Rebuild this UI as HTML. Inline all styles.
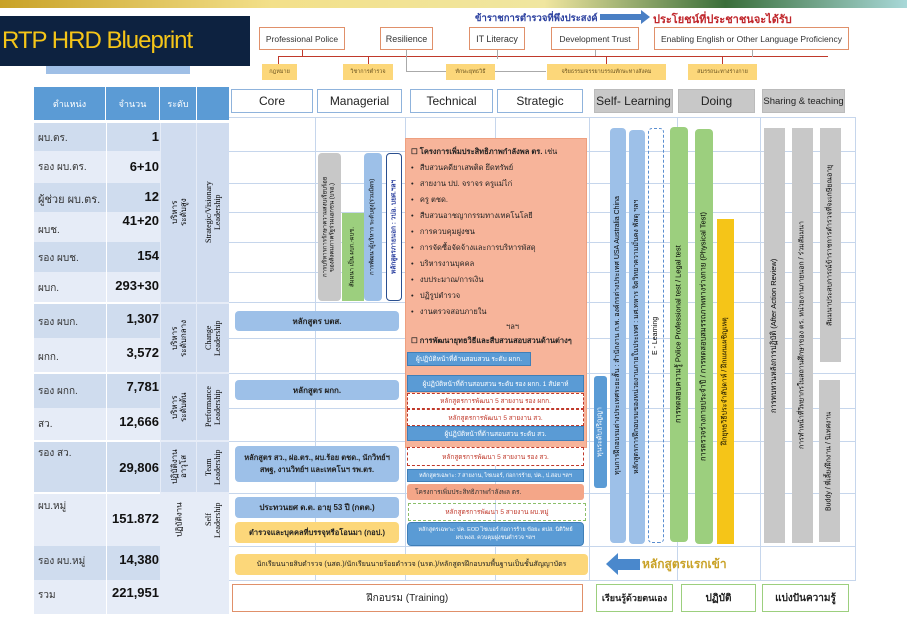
<!DOCTYPE html>
<html><head><meta charset="utf-8">
<style>
*{margin:0;padding:0;box-sizing:border-box}
body{width:907px;height:624px;background:#fff;position:relative;overflow:hidden;font-family:"Liberation Sans","Noto Sans CJK SC",sans-serif;}
.a{position:absolute}
.c{display:flex;align-items:center;justify-content:center;text-align:center;white-space:nowrap}
.v{writing-mode:vertical-rl;transform:rotate(180deg);display:flex;align-items:center;justify-content:center;text-align:center;font-size:8px;line-height:1.15}
.tb{border:1.5px solid #e0906a;background:#fff;font-size:9px;color:#333}
.yl{background:#fcd77a;font-size:5.5px;color:#6b5420}
.hd{background:#fff;border:1.5px solid #8fb3dc;font-size:12px;color:#222}
.gh{background:#c8c8c8;border:1px solid #bbb;font-size:12px;color:#222}
.hl{background:#c6d6ec;height:1px;left:229px;width:627px}
.vl{background:#c6d6ec;width:1px;top:118px;height:463px}
.bb{background:#5a9bd5;color:#fff;font-size:6.5px;border:1px solid #3f7fb8}
.cb{background:#9dc0e8;border-radius:4px;font-size:8px;color:#222;font-weight:bold}
.rd{border:1.5px dashed #c0392b;background:#fff;color:#c0392b;font-size:6.5px}
</style></head><body>
<div class="a" style="left:0;top:0;width:907px;height:8px;background:linear-gradient(90deg,#c9a227,#f3e08a 30%,#f0e6a0 60%,#3a6e3a 80%,#a8d8d8)"></div>
<div class="a" style="left:46px;top:58px;width:144px;height:16px;background:#9fbfe6"></div>
<div class="a" style="left:0;top:16px;width:250px;height:50px;background:#0d2240;color:#f5c518;font-size:24px;letter-spacing:-1px;padding-left:2px;display:flex;align-items:center">RTP HRD Blueprint</div>

<div class="a" style="left:475px;top:11px;font-size:9.5px;font-weight:bold;color:#2a3f9f;white-space:nowrap">ข้าราชการตำรวจที่พึงประสงค์</div>
<div class="a" style="left:600px;top:14px;width:42px;height:6px;background:#4a7fc4"></div>
<div class="a" style="left:641px;top:10px;width:0;height:0;border-left:9px solid #4a7fc4;border-top:7px solid transparent;border-bottom:7px solid transparent"></div>
<div class="a" style="left:653px;top:10px;font-size:11px;font-weight:bold;color:#c0262b;white-space:nowrap">ประโยชน์ที่ประชาชนจะได้รับ</div>

<div class="a" style="left:302px;top:50px;width:1px;height:7px;background:#c0392b"></div>
<div class="a" style="left:278px;top:56px;width:550px;height:1px;background:#c0392b"></div>
<div class="a" style="left:278px;top:56px;width:1px;height:8px;background:#c0392b"></div>
<div class="a" style="left:368px;top:56px;width:1px;height:8px;background:#c0392b"></div>
<div class="a" style="left:606px;top:56px;width:1px;height:8px;background:#c0392b"></div>
<div class="a" style="left:722px;top:56px;width:1px;height:8px;background:#c0392b"></div>
<div class="a" style="left:406px;top:50px;width:1px;height:22px;background:#aaa"></div>
<div class="a" style="left:406px;top:71px;width:140px;height:1px;background:#aaa"></div>
<div class="a" style="left:497px;top:50px;width:1px;height:9px;background:#aaa"></div>
<div class="a" style="left:595px;top:50px;width:1px;height:6px;background:#aaa"></div>
<div class="a" style="left:752px;top:50px;width:1px;height:7px;background:#aaa"></div>

<div class="a c tb" style="left:259px;top:27px;width:86px;height:23px;font-size:8.5px">Professional Police</div>
<div class="a c tb" style="left:380px;top:27px;width:53px;height:23px">Resilience</div>
<div class="a c tb" style="left:469px;top:27px;width:56px;height:23px">IT Literacy</div>
<div class="a c tb" style="left:551px;top:27px;width:88px;height:23px;font-size:8.5px">Development Trust</div>
<div class="a c tb" style="left:654px;top:27px;width:195px;height:23px;font-size:8.5px">Enabling English or Other Language Proficiency</div>

<div class="a c yl" style="left:262px;top:64px;width:35px;height:16px">กฎหมาย</div>
<div class="a c yl" style="left:343px;top:64px;width:50px;height:16px">วิชาการตำรวจ</div>
<div class="a c yl" style="left:446px;top:64px;width:49px;height:16px">ทักษะยุทธวิธี</div>
<div class="a c yl" style="left:547px;top:64px;width:119px;height:16px">จริยธรรม/จรรยาบรรณทักษะทางสังคม</div>
<div class="a c yl" style="left:688px;top:64px;width:69px;height:16px">สมรรถนะทางร่างกาย</div>

<div class="a" style="left:34px;top:87px;width:195px;height:33px;background:#5b9bd5"></div>
<div class="a c" style="left:34px;top:87px;width:72px;height:33px;color:#fff;font-size:9px;border-right:1px solid #fff">ตำแหน่ง</div>
<div class="a c" style="left:106px;top:87px;width:54px;height:33px;color:#fff;font-size:9px;border-right:1px solid #fff">จำนวน</div>
<div class="a c" style="left:160px;top:87px;width:37px;height:33px;color:#fff;font-size:9px;border-right:1px solid #fff">ระดับ</div>

<div class="a" style="left:34px;top:123px;width:126px;height:28px;background:#cfdcee"></div>
<div class="a" style="left:34px;top:151px;width:126px;height:32px;background:#e6ecf7"></div>
<div class="a" style="left:34px;top:183px;width:126px;height:29px;background:#cfdcee"></div>
<div class="a" style="left:34px;top:212px;width:126px;height:30px;background:#e6ecf7"></div>
<div class="a" style="left:34px;top:242px;width:126px;height:30px;background:#cfdcee"></div>
<div class="a" style="left:34px;top:272px;width:126px;height:30px;background:#e6ecf7"></div>
<div class="a" style="left:34px;top:304px;width:126px;height:34px;background:#cfdcee"></div>
<div class="a" style="left:34px;top:338px;width:126px;height:34px;background:#e6ecf7"></div>
<div class="a" style="left:34px;top:374px;width:126px;height:34px;background:#cfdcee"></div>
<div class="a" style="left:34px;top:408px;width:126px;height:32px;background:#e6ecf7"></div>
<div class="a" style="left:34px;top:442px;width:126px;height:50px;background:#cfdcee"></div>
<div class="a" style="left:34px;top:494px;width:126px;height:52px;background:#e6ecf7"></div>
<div class="a" style="left:34px;top:546px;width:126px;height:34px;background:#cfdcee"></div>
<div class="a" style="left:34px;top:580px;width:126px;height:34px;background:#e6ecf7"></div>
<div class="a" style="left:106px;top:123px;width:1px;height:491px;background:#fff"></div>
<div class="a" style="left:160px;top:123px;width:69px;height:491px;background:#e6ecf7"></div>
<div class="a" style="left:161px;top:123px;width:35px;height:179px;background:#d0dcef"></div>
<div class="a" style="left:197px;top:123px;width:32px;height:179px;background:#d0dcef"></div>
<div class="a" style="left:161px;top:304px;width:35px;height:68px;background:#d0dcef"></div>
<div class="a" style="left:197px;top:304px;width:32px;height:68px;background:#d0dcef"></div>
<div class="a" style="left:161px;top:374px;width:35px;height:66px;background:#d0dcef"></div>
<div class="a" style="left:197px;top:374px;width:32px;height:66px;background:#d0dcef"></div>
<div class="a" style="left:161px;top:442px;width:35px;height:50px;background:#d0dcef"></div>
<div class="a" style="left:197px;top:442px;width:32px;height:50px;background:#d0dcef"></div>

<div class="a" style="left:38px;top:123px;width:120px;font-size:10px;color:#333">
<div style="position:absolute;top:8px">ผบ.ตร.</div>
<div style="position:absolute;top:37px">รอง ผบ.ตร.</div>
<div style="position:absolute;top:67px;font-size:11px;white-space:nowrap">ผู้ช่วย ผบ.ตร.</div>
<div style="position:absolute;top:100px">ผบช.</div>
<div style="position:absolute;top:128px">รอง ผบช.</div>
<div style="position:absolute;top:158px">ผบก.</div>
<div style="position:absolute;top:192px">รอง ผบก.</div>
<div style="position:absolute;top:227px">ผกก.</div>
<div style="position:absolute;top:261px">รอง ผกก.</div>
<div style="position:absolute;top:294px">สว.</div>
<div style="position:absolute;top:323px">รอง สว.</div>
<div style="position:absolute;top:376px">ผบ.หมู่</div>
<div style="position:absolute;top:431px">รอง ผบ.หมู่</div>
<div style="position:absolute;top:465px">รวม</div>
</div>
<div class="a" style="left:106px;top:123px;width:53px;font-size:13px;font-weight:bold;color:#111;text-align:right">
<div style="position:absolute;right:0;top:6px">1</div>
<div style="position:absolute;right:0;top:36px">6+10</div>
<div style="position:absolute;right:0;top:66px">12</div>
<div style="position:absolute;right:0;top:90px">41+20</div>
<div style="position:absolute;right:0;top:125px">154</div>
<div style="position:absolute;right:0;top:155px">293+30</div>
<div style="position:absolute;right:0;top:188px">1,307</div>
<div style="position:absolute;right:0;top:222px">3,572</div>
<div style="position:absolute;right:0;top:256px">7,781</div>
<div style="position:absolute;right:0;top:291px">12,666</div>
<div style="position:absolute;right:0;top:337px">29,806</div>
<div style="position:absolute;right:0;top:388px">151.872</div>
<div style="position:absolute;right:0;top:429px">14,380</div>
<div style="position:absolute;right:0;top:462px">221,951</div>
</div>
<div class="a v" style="left:162px;top:123px;width:34px;height:179px">บริหาร<br>ระดับสูง</div>
<div class="a v" style="left:197px;top:123px;width:32px;height:179px;font-family:'Liberation Serif',serif">Strategic/Visionary<br>Leadership</div>
<div class="a v" style="left:162px;top:304px;width:34px;height:68px">บริหาร<br>ระดับกลาง</div>
<div class="a v" style="left:197px;top:304px;width:32px;height:68px;font-family:'Liberation Serif',serif">Change<br>Leadership</div>
<div class="a v" style="left:162px;top:374px;width:34px;height:66px">บริหาร<br>ระดับต้น</div>
<div class="a v" style="left:197px;top:374px;width:32px;height:66px;font-family:'Liberation Serif',serif">Performance<br>Leadership</div>
<div class="a v" style="left:162px;top:442px;width:34px;height:50px">ปฏิบัติงาน<br>อาวุโส</div>
<div class="a v" style="left:197px;top:442px;width:32px;height:50px;font-family:'Liberation Serif',serif">Team<br>Leadership</div>
<div class="a v" style="left:162px;top:494px;width:34px;height:52px">ปฏิบัติงาน</div>
<div class="a v" style="left:197px;top:494px;width:32px;height:52px;font-family:'Liberation Serif',serif">Self<br>Leadership</div>

<div class="a hl" style="top:117px"></div>
<div class="a hl" style="top:151px"></div>
<div class="a hl" style="top:183px"></div>
<div class="a hl" style="top:212px"></div>
<div class="a hl" style="top:242px"></div>
<div class="a hl" style="top:272px"></div>
<div class="a hl" style="top:302px"></div>
<div class="a hl" style="top:338px"></div>
<div class="a hl" style="top:373px"></div>
<div class="a hl" style="top:408px"></div>
<div class="a hl" style="top:441px"></div>
<div class="a hl" style="top:493px"></div>
<div class="a hl" style="top:546px"></div>
<div class="a hl" style="top:580px"></div>
<div class="a vl" style="left:315px"></div>
<div class="a vl" style="left:405px"></div>
<div class="a vl" style="left:495px"></div>
<div class="a vl" style="left:589px"></div>
<div class="a vl" style="left:677px"></div>
<div class="a vl" style="left:760px"></div>
<div class="a vl" style="left:855px"></div>

<div class="a c hd" style="left:231px;top:89px;width:82px;height:24px">Core</div>
<div class="a c hd" style="left:317px;top:89px;width:85px;height:24px">Managerial</div>
<div class="a c hd" style="left:410px;top:89px;width:83px;height:24px">Technical</div>
<div class="a c hd" style="left:497px;top:89px;width:86px;height:24px">Strategic</div>
<div class="a c gh" style="left:594px;top:89px;width:79px;height:24px">Self- Learning</div>
<div class="a c gh" style="left:678px;top:89px;width:77px;height:24px">Doing</div>
<div class="a c gh" style="left:762px;top:89px;width:83px;height:24px;font-size:9.5px">Sharing &amp; teaching</div>

<div class="a v" style="left:318px;top:153px;width:23px;height:148px;background:#c8c8c8;border-radius:4px;font-size:6px">การบริหารการรักษาความสงบเรียบร้อย<br>ของสังคมภาครัฐร่วมเอกชน (บรอ.)</div>
<div class="a v" style="left:342px;top:213px;width:22px;height:88px;background:#9ccf7e;font-size:6px">สัมมนา เป็น ผบก.-ผบช.</div>
<div class="a v" style="left:364px;top:153px;width:18px;height:148px;background:#9dc0e8;border-radius:4px;font-size:6px">การพัฒนาผู้บริหาร ระดับสูง(ร่วมมิตร)</div>
<div class="a v" style="left:386px;top:153px;width:16px;height:148px;background:#fff;border:1.5px solid #2a4f8f;border-radius:4px;font-size:6.5px;color:#2a3f9f;font-weight:bold">หลักสูตรภายนอก : วปอ. บยศ.ฯลฯ</div>

<div class="a" style="left:405px;top:138px;width:182px;height:310px;background:#f7b49a;border:1px solid #eea080"></div>
<div class="a" style="left:411px;top:144px;font-size:7.5px;color:#222;line-height:16px;white-space:nowrap">
<div><b>☐ โครงการเพิ่มประสิทธิภาพกำลังพล ตร.</b> เช่น</div>
<div>• &nbsp; สืบสวนคดียาเสพติด ยึดทรัพย์</div>
<div>• &nbsp; สายงาน ปป. จราจร ครูแม่ไก่</div>
<div>• &nbsp; ครู ตชด.</div>
<div>• &nbsp; สืบสวนอาชญากรรมทางเทคโนโลยี</div>
<div>• &nbsp; การควบคุมฝูงชน</div>
<div>• &nbsp; การจัดซื้อจัดจ้างและการบริหารพัสดุ</div>
<div>• &nbsp; บริหารงานบุคคล</div>
<div>• &nbsp; งบประมาณ/การเงิน</div>
<div>• &nbsp; ปฏิรูปตำรวจ</div>
<div>• &nbsp; งานตรวจสอบภายใน</div>
<div style="padding-left:95px;line-height:14px">ฯลฯ</div>
<div style="line-height:14px"><b>☐ การพัฒนายุทธวิธีและสืบสวนสอบสวนด้านต่างๆ</b></div>
</div>
<div class="a c bb" style="left:407px;top:352px;width:124px;height:14px">ผู้ปฏิบัติหน้าที่ด้านสอบสวน ระดับ ผกก.</div>
<div class="a c bb" style="left:407px;top:375px;width:177px;height:17px">ผู้ปฏิบัติหน้าที่ด้านสอบสวน ระดับ รอง ผกก. 1 สัปดาห์</div>
<div class="a c rd" style="left:407px;top:393px;width:177px;height:16px">หลักสูตรการพัฒนา 5 สายงาน รอง ผกก.</div>
<div class="a c rd" style="left:407px;top:409px;width:177px;height:17px">หลักสูตรการพัฒนา 5 สายงาน สว.</div>
<div class="a c bb" style="left:407px;top:426px;width:177px;height:15px">ผู้ปฏิบัติหน้าที่ด้านสอบสวน ระดับ สว.</div>
<div class="a c rd" style="left:407px;top:447px;width:177px;height:19px">หลักสูตรการพัฒนา 5 สายงาน รอง สว.</div>
<div class="a c bb" style="left:407px;top:469px;width:177px;height:13px;font-size:5.5px">หลักสูตรเฉพาะ: 7 สายงาน, ไซเบอร์, ก่อการร้าย, ปค., ป.สอบ ฯลฯ</div>
<div class="a" style="left:407px;top:484px;width:177px;height:16px;background:#f4a688;border-radius:3px;font-size:6.5px;padding:3px 0 0 8px;color:#333;white-space:nowrap">โครงการเพิ่มประสิทธิภาพกำลังพล ตร.</div>
<div class="a c" style="left:408px;top:503px;width:178px;height:18px;border:1.5px dashed #8bbf6a;color:#c0392b;font-size:6.5px">หลักสูตรการพัฒนา 5 สายงาน ผบ.หมู่</div>
<div class="a c bb" style="left:407px;top:522px;width:177px;height:24px;font-size:5.5px;border-radius:4px;line-height:1.5">หลักสูตรเฉพาะ: ปค. EOD ไซเบอร์ ก่อการร้าย ข้อยะ ตปส. นิติวิทย์<br>ผข.พงส. ควบคุมฝูงชนตำรวจ ฯลฯ</div>

<div class="a c cb" style="left:235px;top:311px;width:164px;height:20px">หลักสูตร บตส.</div>
<div class="a c cb" style="left:235px;top:380px;width:164px;height:20px">หลักสูตร ผกก.</div>
<div class="a c cb" style="left:235px;top:446px;width:164px;height:36px;line-height:1.6;font-size:7.5px">หลักสูตร สว., ฝอ.ตร., ผบ.ร้อย ตชด., นักวิทย์ฯ<br>สพฐ, งานวิทย์ฯ และเทคโนฯ รพ.ตร.</div>
<div class="a c cb" style="left:235px;top:497px;width:164px;height:21px">ประทวนยศ ด.ต. อายุ 53 ปี (กตต.)</div>
<div class="a c cb" style="left:235px;top:522px;width:164px;height:21px;background:#fcd77a;font-size:7.5px">ตำรวจและบุคคลที่บรรจุหรือโอนมา (กอป.)</div>
<div class="a c" style="left:235px;top:554px;width:353px;height:21px;background:#fcd77a;border-radius:4px;font-size:7px;color:#222">นักเรียนนายสิบตำรวจ (นสต.)/นักเรียนนายร้อยตำรวจ (นรต.)/หลักสูตรฝึกอบรมพื้นฐานเป็นชั้นสัญญาบัตร</div>

<div class="a v" style="left:594px;top:376px;width:13px;height:112px;background:#5a9bd5;border-radius:3px;color:#fff;font-size:7px">ทุนระดับปริญญา</div>
<div class="a v" style="left:610px;top:128px;width:16px;height:415px;background:#9dc0e8;border-radius:4px;font-size:7px">ทุนการฝึกอบรมต่างประเทศระยะสั้น : สำนักงาน ก.พ. องค์กรต่างประเทศ USA Australia China</div>
<div class="a v" style="left:629px;top:130px;width:16px;height:414px;background:#9dc0e8;border-radius:4px;font-size:7px">หลักสูตรการฝึกอบรมของหน่วยงานภายในประเทศ : มศ.ทหาร จิตวิทยาความมั่นคง พัสดุ ฯลฯ</div>
<div class="a v" style="left:648px;top:128px;width:16px;height:415px;border:1.5px dashed #5a8ed0;border-radius:4px;font-size:7px">E - Learning</div>
<div class="a v" style="left:670px;top:127px;width:18px;height:415px;background:#9ccf7e;border-radius:4px;font-size:7.5px">การทดสอบความรู้ Police Professional test / Legal test</div>
<div class="a v" style="left:695px;top:129px;width:18px;height:415px;background:#9ccf7e;border-radius:4px;font-size:7.5px">การตรวจร่างกายประจำปี / การทดสอบสมรรถภาพทางร่างกาย (Physical Test)</div>
<div class="a v" style="left:717px;top:219px;width:17px;height:325px;background:#f5c518;font-size:7px">ฝึกยุทธวิธีประจำสัปดาห์ / ฝึกแผนเผชิญเหตุ</div>
<div class="a v" style="left:764px;top:128px;width:21px;height:415px;background:#c8c8c8;font-size:7.5px">การทบทวนหลังการปฏิบัติ (After Action Review)</div>
<div class="a v" style="left:792px;top:128px;width:21px;height:415px;background:#c8c8c8;font-size:7px">การทำหน้าที่วิทยากรในสถานศึกษาของ ตร. หน่วยงานภายนอก / ร่วมสัมมนา</div>
<div class="a v" style="left:820px;top:128px;width:21px;height:234px;background:#c8c8c8;font-size:7px">สัมมนาประสบการณ์ข้าราชการตำรวจที่จะเกษียณอายุ</div>
<div class="a v" style="left:819px;top:380px;width:21px;height:162px;background:#c8c8c8;font-size:7px">Buddy / พี่เลี้ยงฝึกงาน / นิเทศงาน</div>

<div class="a" style="left:616px;top:559px;width:24px;height:11px;background:#4a88cc"></div>
<div class="a" style="left:606px;top:553px;width:0;height:0;border-right:12px solid #4a88cc;border-top:11px solid transparent;border-bottom:11px solid transparent"></div>
<div class="a" style="left:642px;top:555px;font-size:12px;font-weight:bold;color:#c9a227;white-space:nowrap">หลักสูตรแรกเข้า</div>

<div class="a c" style="left:232px;top:584px;width:351px;height:28px;border:1.5px solid #e0906a;font-size:10px;color:#222">ฝึกอบรม (Training)</div>
<div class="a c" style="left:596px;top:584px;width:77px;height:28px;border:1.5px solid #9ccf7e;font-size:9px;font-weight:bold;color:#222">เรียนรู้ด้วยตนเอง</div>
<div class="a c" style="left:681px;top:584px;width:75px;height:28px;border:1.5px solid #9ccf7e;font-size:10px;font-weight:bold;color:#222">ปฏิบัติ</div>
<div class="a c" style="left:762px;top:584px;width:87px;height:28px;border:1.5px solid #9ccf7e;font-size:10px;font-weight:bold;color:#222">แบ่งปันความรู้</div>
</body></html>
